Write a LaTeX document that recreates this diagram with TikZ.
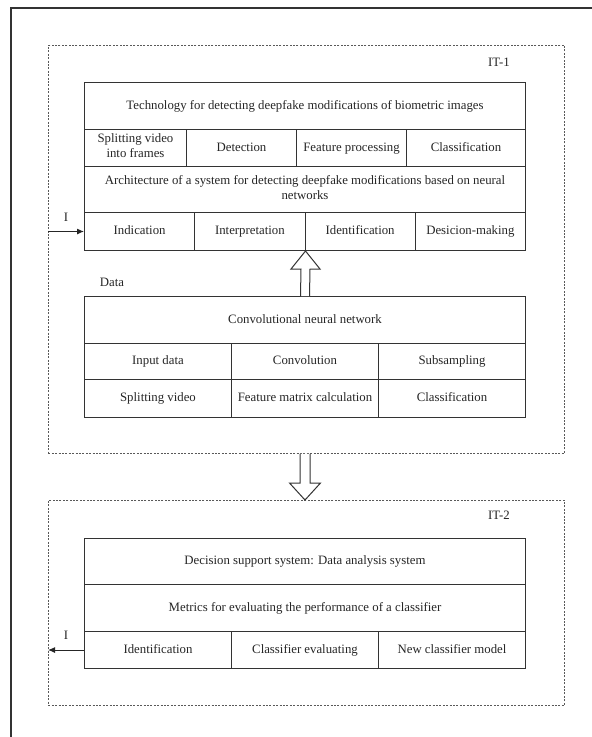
\documentclass[tikz,border=0pt]{standalone}
\usepackage{fontspec}
\setmainfont{Liberation Serif}
\usetikzlibrary{calc,arrows.meta}
\begin{document}
\begin{tikzpicture}[x=1pt,y=-1pt,
  txt/.style={font=\fontsize{12.8}{15}\selectfont, text=black!85},
  cell/.style={txt, draw=black!80, line width=1pt, inner sep=0pt, anchor=north west, align=center,
    execute at begin node=\strut, execute at end node=\strut},
  dashbox/.style={draw=black!65, line width=0.9pt, dash pattern=on 2pt off 1.4pt, inner sep=0pt, anchor=north west},
  lbl/.style={txt, inner sep=0pt},
  hollow/.style={draw=black!80, line width=1pt, fill=white, line join=miter},
  conn/.style={draw=black!85, line width=1pt, -{Latex[length=7pt,width=6pt]}}]
\useasboundingbox[fill=white] (0,0) rectangle (592,737);
\draw[black!80, line width=1.3pt] (11,737) -- (11,8) -- (592,8);
% dashed frames
\node[dashbox, minimum width=516pt, minimum height=408pt] (it1) at (48,45) {};
\node[dashbox, minimum width=516pt, minimum height=205pt] (it2) at (48,500) {};
\node[lbl] (l1) at (499,62) {IT-1};
\node[lbl] (l2) at (499,515) {IT-2};
% table A
\node[cell, minimum width=441pt, minimum height=47pt] (a1) at (84,82) {Technology for detecting deepfake modifications of biometric images};
\node[cell, minimum width=102pt, minimum height=37pt] (a21) at (84,129) {Splitting video\\into frames};
\node[cell, minimum width=110pt, minimum height=37pt] (a22) at (186,129) {Detection};
\node[cell, minimum width=110pt, minimum height=37pt] (a23) at (296,129) {Feature processing};
\node[cell, minimum width=119pt, minimum height=37pt] (a24) at (406,129) {Classification};
\node[cell, minimum width=441pt, minimum height=46pt] (a3) at (84,166) {Architecture of a system for detecting deepfake modifications based on neural\\networks};
\node[cell, minimum width=110.25pt, minimum height=38pt] (a41) at (84,212) {Indication};
\node[cell, minimum width=110.25pt, minimum height=38pt] (a42) at (194.25,212) {Interpretation};
\node[cell, minimum width=110.25pt, minimum height=38pt] (a43) at (304.5,212) {Identification};
\node[cell, minimum width=110.25pt, minimum height=38pt] (a44) at (414.75,212) {Desicion-making};
% table B
\node[cell, minimum width=441pt, minimum height=47pt] (b1) at (84,296) {Convolutional neural network};
\node[cell, minimum width=147pt, minimum height=36pt] (b21) at (84,343) {Input data};
\node[cell, minimum width=147pt, minimum height=36pt] (b22) at (231,343) {Convolution};
\node[cell, minimum width=147pt, minimum height=36pt] (b23) at (378,343) {Subsampling};
\node[cell, minimum width=147pt, minimum height=38pt] (b31) at (84,379) {Splitting video};
\node[cell, minimum width=147pt, minimum height=38pt] (b32) at (231,379) {Feature matrix calculation};
\node[cell, minimum width=147pt, minimum height=38pt] (b33) at (378,379) {Classification};
\node[lbl] (data) at (112,282) {Data};
% table C
\node[cell, minimum width=441pt, minimum height=46pt] (c1) at (84,538) {Decision support system: Data analysis system};
\node[cell, minimum width=441pt, minimum height=47pt] (c2) at (84,584) {Metrics for evaluating the performance of a classifier};
\node[cell, minimum width=147pt, minimum height=37pt] (c31) at (84,631) {Identification};
\node[cell, minimum width=147pt, minimum height=37pt] (c32) at (231,631) {Classifier evaluating};
\node[cell, minimum width=147pt, minimum height=37pt] (c33) at (378,631) {New classifier model};
% input / output arrows
\node[lbl] (i1) at (66,217) {I};
\coordinate (in1) at (it1.west |- a41.west);
\draw[conn] (in1) -- (a41.west);
\node[lbl] (i2) at (66,635) {I};
\coordinate (out2) at (it2.west |- c31.west);
\draw[conn] (c31.west) -- (out2);
% hollow up arrow
\coordinate (uptip) at (a42.south east);
\draw[hollow] ($(b1.north)+(-4.5,0)$) -- ($(uptip)+(-4.5,18)$) -- ($(uptip)+(-14.5,18)$) -- (uptip)
  -- ($(uptip)+(14.5,18)$) -- ($(uptip)+(4.5,18)$) -- ($(b1.north)+(4.5,0)$);
% hollow down arrow
\coordinate (dtop) at (b32.south |- it1.south);
\coordinate (dtip) at (b32.south |- it2.north);
\draw[hollow] ($(dtop)+(-5,0)$) -- ($(dtip)+(-5,-17)$) -- ($(dtip)+(-15.5,-17)$) -- (dtip)
  -- ($(dtip)+(15.5,-17)$) -- ($(dtip)+(5,-17)$) -- ($(dtop)+(5,0)$);
\end{tikzpicture}
\end{document}
